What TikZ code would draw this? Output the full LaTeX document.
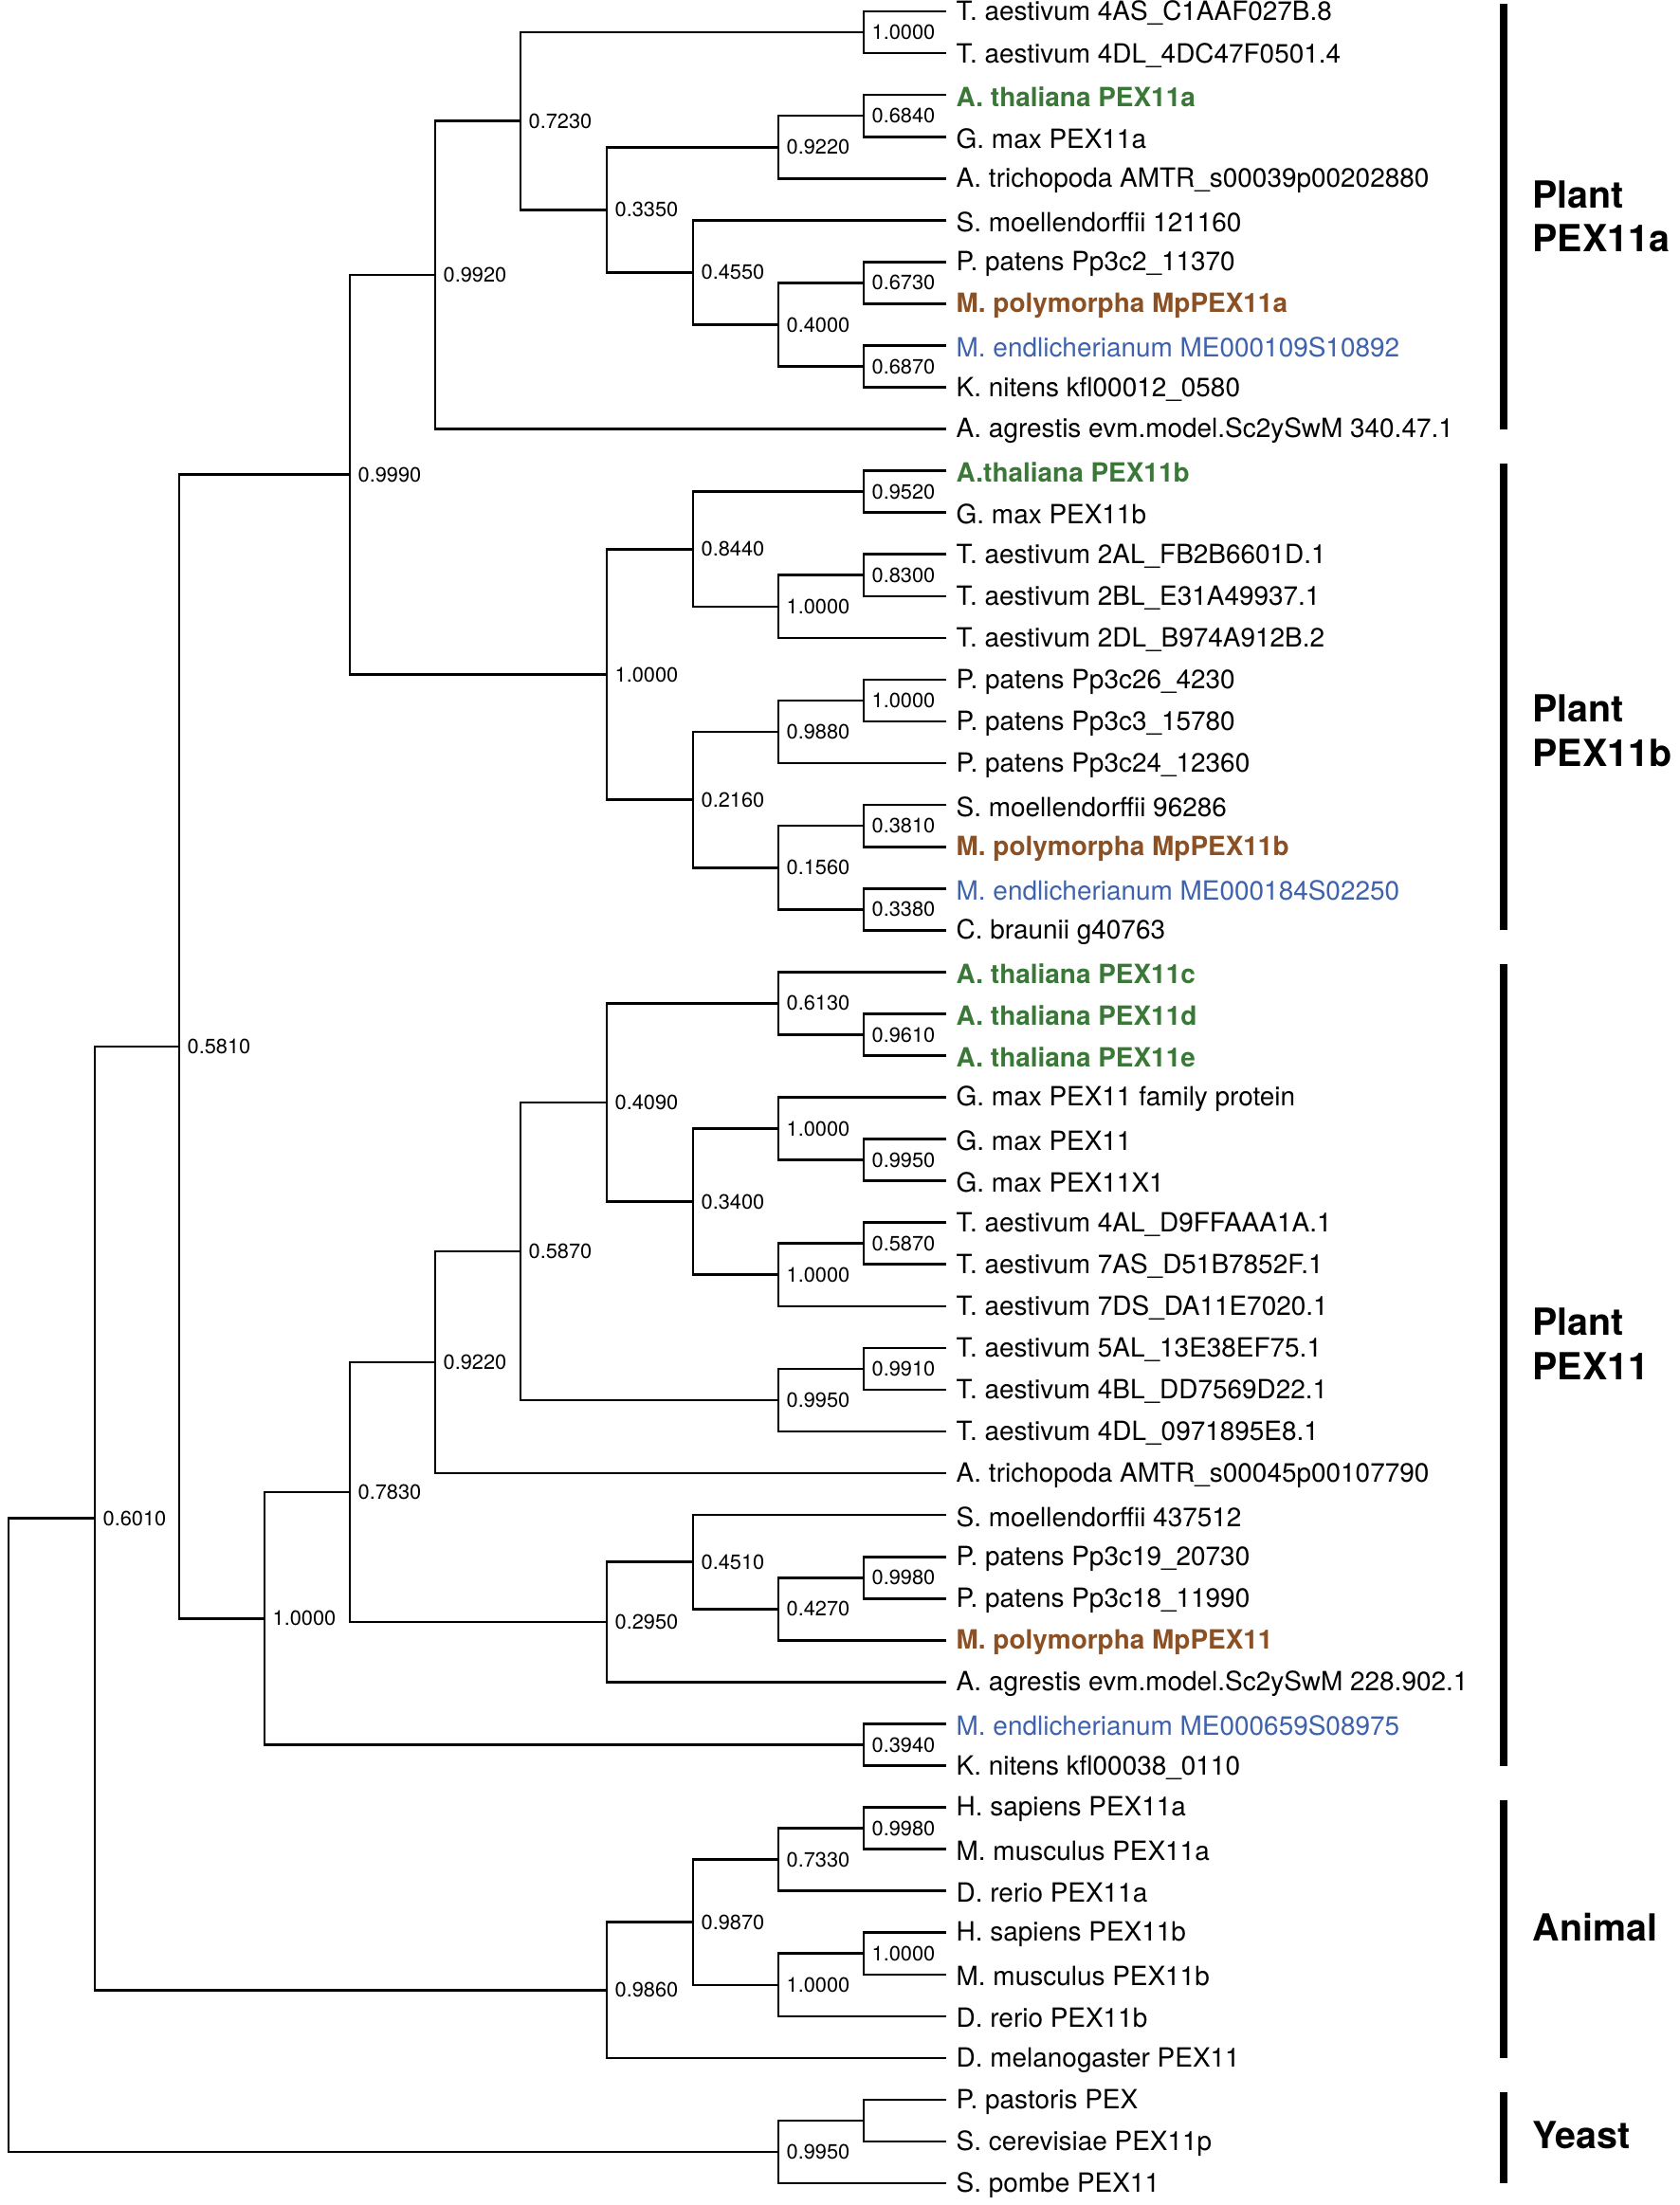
\documentclass[tikz,border=0pt]{standalone}
\usepackage{fontspec}
\setmainfont{TeX Gyre Heros}
\definecolor{athgreen}{RGB}{58,120,56}
\definecolor{mpobrown}{RGB}{139,80,35}
\definecolor{menblue}{RGB}{62,98,172}
\newcommand{\leaffont}{\fontsize{7.95}{9}\selectfont}
\tikzset{
  br/.style={line width=0.75pt},
  leaf/.style={font=\leaffont, inner sep=0pt, anchor=west, xshift=1mm, yshift=-0.2mm},
  ath/.style={leaf, font=\leaffont\bfseries, text=athgreen},
  mpo/.style={leaf, font=\leaffont\bfseries, text=mpobrown},
  men/.style={leaf, text=menblue},
  boot/.style={font=\fontsize{6.2}{7}\selectfont, inner sep=0pt, anchor=west, xshift=0.8mm, yshift=0mm},
  bar/.style={line width=2pt},
  grp/.style={font=\fontsize{11.2}{13.3}\selectfont\bfseries, align=left, anchor=west, inner sep=0pt}
}
\begin{document}
\begin{tikzpicture}[x=0.1mm, y=-4.406mm]
\useasboundingbox (0,-0.2724) rectangle (1772,52.52);
% leaves
\path (998,0) coordinate (l1) node[leaf] (t1) {T. aestivum 4AS\_C1AAF027B.8};
\path (998,1) coordinate (l2) node[leaf] (t2) {T. aestivum 4DL\_4DC47F0501.4};
\path (998,2) coordinate (l3) node[ath] (t3) {A. thaliana PEX11a};
\path (998,3) coordinate (l4) node[leaf] (t4) {G. max PEX11a};
\path (998,4) coordinate (l5) node[leaf] (t5) {A. trichopoda AMTR\_s00039p00202880};
\path (998,5) coordinate (l6) node[leaf] (t6) {S. moellendorffii 121160};
\path (998,6) coordinate (l7) node[leaf] (t7) {P. patens Pp3c2\_11370};
\path (998,7) coordinate (l8) node[mpo] (t8) {M. polymorpha MpPEX11a};
\path (998,8) coordinate (l9) node[men] (t9) {M. endlicherianum ME000109S10892};
\path (998,9) coordinate (l10) node[leaf] (t10) {K. nitens kfl00012\_0580};
\path (998,10) coordinate (l11) node[leaf] (t11) {A. agrestis evm.model.Sc2ySwM 340.47.1};
\path (998,11) coordinate (l12) node[ath] (t12) {A.thaliana PEX11b};
\path (998,12) coordinate (l13) node[leaf] (t13) {G. max PEX11b};
\path (998,13) coordinate (l14) node[leaf] (t14) {T. aestivum 2AL\_FB2B6601D.1};
\path (998,14) coordinate (l15) node[leaf] (t15) {T. aestivum 2BL\_E31A49937.1};
\path (998,15) coordinate (l16) node[leaf] (t16) {T. aestivum 2DL\_B974A912B.2};
\path (998,16) coordinate (l17) node[leaf] (t17) {P. patens Pp3c26\_4230};
\path (998,17) coordinate (l18) node[leaf] (t18) {P. patens Pp3c3\_15780};
\path (998,18) coordinate (l19) node[leaf] (t19) {P. patens Pp3c24\_12360};
\path (998,19) coordinate (l20) node[leaf] (t20) {S. moellendorffii 96286};
\path (998,20) coordinate (l21) node[mpo] (t21) {M. polymorpha MpPEX11b};
\path (998,21) coordinate (l22) node[men] (t22) {M. endlicherianum ME000184S02250};
\path (998,22) coordinate (l23) node[leaf] (t23) {C. braunii g40763};
\path (998,23) coordinate (l24) node[ath] (t24) {A. thaliana PEX11c};
\path (998,24) coordinate (l25) node[ath] (t25) {A. thaliana PEX11d};
\path (998,25) coordinate (l26) node[ath] (t26) {A. thaliana PEX11e};
\path (998,26) coordinate (l27) node[leaf] (t27) {G. max PEX11 family protein};
\path (998,27) coordinate (l28) node[leaf] (t28) {G. max PEX11};
\path (998,28) coordinate (l29) node[leaf] (t29) {G. max PEX11X1};
\path (998,29) coordinate (l30) node[leaf] (t30) {T. aestivum 4AL\_D9FFAAA1A.1};
\path (998,30) coordinate (l31) node[leaf] (t31) {T. aestivum 7AS\_D51B7852F.1};
\path (998,31) coordinate (l32) node[leaf] (t32) {T. aestivum 7DS\_DA11E7020.1};
\path (998,32) coordinate (l33) node[leaf] (t33) {T. aestivum 5AL\_13E38EF75.1};
\path (998,33) coordinate (l34) node[leaf] (t34) {T. aestivum 4BL\_DD7569D22.1};
\path (998,34) coordinate (l35) node[leaf] (t35) {T. aestivum 4DL\_0971895E8.1};
\path (998,35) coordinate (l36) node[leaf] (t36) {A. trichopoda AMTR\_s00045p00107790};
\path (998,36) coordinate (l37) node[leaf] (t37) {S. moellendorffii 437512};
\path (998,37) coordinate (l38) node[leaf] (t38) {P. patens Pp3c19\_20730};
\path (998,38) coordinate (l39) node[leaf] (t39) {P. patens Pp3c18\_11990};
\path (998,39) coordinate (l40) node[mpo] (t40) {M. polymorpha MpPEX11};
\path (998,40) coordinate (l41) node[leaf] (t41) {A. agrestis evm.model.Sc2ySwM 228.902.1};
\path (998,41) coordinate (l42) node[men] (t42) {M. endlicherianum ME000659S08975};
\path (998,42) coordinate (l43) node[leaf] (t43) {K. nitens kfl00038\_0110};
\path (998,43) coordinate (l44) node[leaf] (t44) {H. sapiens PEX11a};
\path (998,44) coordinate (l45) node[leaf] (t45) {M. musculus PEX11a};
\path (998,45) coordinate (l46) node[leaf] (t46) {D. rerio PEX11a};
\path (998,46) coordinate (l47) node[leaf] (t47) {H. sapiens PEX11b};
\path (998,47) coordinate (l48) node[leaf] (t48) {M. musculus PEX11b};
\path (998,48) coordinate (l49) node[leaf] (t49) {D. rerio PEX11b};
\path (998,49) coordinate (l50) node[leaf] (t50) {D. melanogaster PEX11};
\path (998,50) coordinate (l51) node[leaf] (t51) {P. pastoris PEX};
\path (998,51) coordinate (l52) node[leaf] (t52) {S. cerevisiae PEX11p};
\path (998,52) coordinate (l53) node[leaf] (t53) {S. pombe PEX11};
% plant PEX11a
\path (911,0.5) coordinate (n1) node[boot] (bn1) {1.0000};
\path (911,2.5) coordinate (n2) node[boot] (bn2) {0.6840};
\path (821,3.25) coordinate (n3) node[boot] (bn3) {0.9220};
\path (911,6.5) coordinate (n4) node[boot] (bn4) {0.6730};
\path (911,8.5) coordinate (n5) node[boot] (bn5) {0.6870};
\path (821,7.5) coordinate (n6) node[boot] (bn6) {0.4000};
\path (731,6.25) coordinate (n7) node[boot] (bn7) {0.4550};
\path (640,4.75) coordinate (n8) node[boot] (bn8) {0.3350};
\path (549,2.625) coordinate (n9) node[boot] (bn9) {0.7230};
\path (459,6.3125) coordinate (n10) node[boot] (bn10) {0.9920};
\draw[br] (l1) -| (n1) |- (l2);
\draw[br] (l3) -| (n2) |- (l4);
\draw[br] (n2) -| (n3) |- (l5);
\draw[br] (l7) -| (n4) |- (l8);
\draw[br] (l9) -| (n5) |- (l10);
\draw[br] (n4) -| (n6) |- (n5);
\draw[br] (l6) -| (n7) |- (n6);
\draw[br] (n3) -| (n8) |- (n7);
\draw[br] (n1) -| (n9) |- (n8);
\draw[br] (n9) -| (n10) |- (l11);
% plant PEX11b
\path (911,11.5) coordinate (m1) node[boot] (bm1) {0.9520};
\path (911,13.5) coordinate (m2) node[boot] (bm2) {0.8300};
\path (821,14.25) coordinate (m3) node[boot] (bm3) {1.0000};
\path (731,12.875) coordinate (m4) node[boot] (bm4) {0.8440};
\path (911,16.5) coordinate (m5) node[boot] (bm5) {1.0000};
\path (821,17.25) coordinate (m6) node[boot] (bm6) {0.9880};
\path (911,19.5) coordinate (m7) node[boot] (bm7) {0.3810};
\path (911,21.5) coordinate (m8) node[boot] (bm8) {0.3380};
\path (821,20.5) coordinate (m9) node[boot] (bm9) {0.1560};
\path (731,18.875) coordinate (m10) node[boot] (bm10) {0.2160};
\path (640,15.875) coordinate (m11) node[boot] (bm11) {1.0000};
\path (369,11.09375) coordinate (r1) node[boot] (br1) {0.9990};
\draw[br] (l12) -| (m1) |- (l13);
\draw[br] (l14) -| (m2) |- (l15);
\draw[br] (m2) -| (m3) |- (l16);
\draw[br] (m1) -| (m4) |- (m3);
\draw[br] (l17) -| (m5) |- (l18);
\draw[br] (m5) -| (m6) |- (l19);
\draw[br] (l20) -| (m7) |- (l21);
\draw[br] (l22) -| (m8) |- (l23);
\draw[br] (m7) -| (m9) |- (m8);
\draw[br] (m6) -| (m10) |- (m9);
\draw[br] (m4) -| (m11) |- (m10);
\draw[br] (n10) -| (r1) |- (m11);
% plant PEX11
\path (911,24.5) coordinate (p1) node[boot] (bp1) {0.9610};
\path (821,23.75) coordinate (p2) node[boot] (bp2) {0.6130};
\path (911,27.5) coordinate (p3) node[boot] (bp3) {0.9950};
\path (821,26.75) coordinate (p4) node[boot] (bp4) {1.0000};
\path (911,29.5) coordinate (p5) node[boot] (bp5) {0.5870};
\path (821,30.25) coordinate (p6) node[boot] (bp6) {1.0000};
\path (731,28.5) coordinate (p7) node[boot] (bp7) {0.3400};
\path (640,26.125) coordinate (p8) node[boot] (bp8) {0.4090};
\path (911,32.5) coordinate (p9) node[boot] (bp9) {0.9910};
\path (821,33.25) coordinate (p10) node[boot] (bp10) {0.9950};
\path (549,29.6875) coordinate (p11) node[boot] (bp11) {0.5870};
\path (459,32.34375) coordinate (p12) node[boot] (bp12) {0.9220};
\path (911,37.5) coordinate (p13) node[boot] (bp13) {0.9980};
\path (821,38.25) coordinate (p14) node[boot] (bp14) {0.4270};
\path (731,37.125) coordinate (p15) node[boot] (bp15) {0.4510};
\path (640,38.5625) coordinate (p16) node[boot] (bp16) {0.2950};
\path (369,35.453125) coordinate (p17) node[boot] (bp17) {0.7830};
\path (911,41.5) coordinate (p18) node[boot] (bp18) {0.3940};
\path (279,38.4765625) coordinate (p19) node[boot] (bp19) {1.0000};
\path (189,24.78515625) coordinate (r2) node[boot] (br2) {0.5810};
\draw[br] (l25) -| (p1) |- (l26);
\draw[br] (l24) -| (p2) |- (p1);
\draw[br] (l28) -| (p3) |- (l29);
\draw[br] (l27) -| (p4) |- (p3);
\draw[br] (l30) -| (p5) |- (l31);
\draw[br] (p5) -| (p6) |- (l32);
\draw[br] (p4) -| (p7) |- (p6);
\draw[br] (p2) -| (p8) |- (p7);
\draw[br] (l33) -| (p9) |- (l34);
\draw[br] (p9) -| (p10) |- (l35);
\draw[br] (p8) -| (p11) |- (p10);
\draw[br] (p11) -| (p12) |- (l36);
\draw[br] (l38) -| (p13) |- (l39);
\draw[br] (p13) -| (p14) |- (l40);
\draw[br] (l37) -| (p15) |- (p14);
\draw[br] (p15) -| (p16) |- (l41);
\draw[br] (p12) -| (p17) |- (p16);
\draw[br] (l42) -| (p18) |- (l43);
\draw[br] (p17) -| (p19) |- (p18);
\draw[br] (r1) -| (r2) |- (p19);
% animal
\path (911,43.5) coordinate (q1) node[boot] (bq1) {0.9980};
\path (821,44.25) coordinate (q2) node[boot] (bq2) {0.7330};
\path (911,46.5) coordinate (q3) node[boot] (bq3) {1.0000};
\path (821,47.25) coordinate (q4) node[boot] (bq4) {1.0000};
\path (731,45.75) coordinate (q5) node[boot] (bq5) {0.9870};
\path (640,47.375) coordinate (q6) node[boot] (bq6) {0.9860};
\path (100,36.080078) coordinate (r3) node[boot] (br3) {0.6010};
\draw[br] (l44) -| (q1) |- (l45);
\draw[br] (q1) -| (q2) |- (l46);
\draw[br] (l47) -| (q3) |- (l48);
\draw[br] (q3) -| (q4) |- (l49);
\draw[br] (q2) -| (q5) |- (q4);
\draw[br] (q5) -| (q6) |- (l50);
\draw[br] (r2) -| (r3) |- (q6);
% yeast and root
\coordinate (y1) at (911,50.5);
\path (821,51.25) coordinate (y2) node[boot] (by2) {0.9950};
\coordinate (root) at (9,43.665);
\draw[br] (l51) -| (y1) |- (l52);
\draw[br] (y1) -| (y2) |- (l53);
\draw[br] (r3) -| (root) |- (y2);
% groups
\draw[bar] (1586,-0.18) -- (1586,10);
\draw[bar] (1586,10.82) -- (1586,22);
\draw[bar] (1586,22.82) -- (1586,42);
\draw[bar] (1586,42.82) -- (1586,49);
\draw[bar] (1586,49.82) -- (1586,52);
\node[grp] (g1) at (1616,4.91) {Plant\\PEX11a};
\node[grp] (g2) at (1616,17.22) {Plant\\PEX11b};
\node[grp] (g3) at (1616,31.9) {Plant\\PEX11};
\node[grp] (g4) at (1616,45.87) {Animal};
\node[grp] (g5) at (1616,50.84) {Yeast};
\end{tikzpicture}
\end{document}
